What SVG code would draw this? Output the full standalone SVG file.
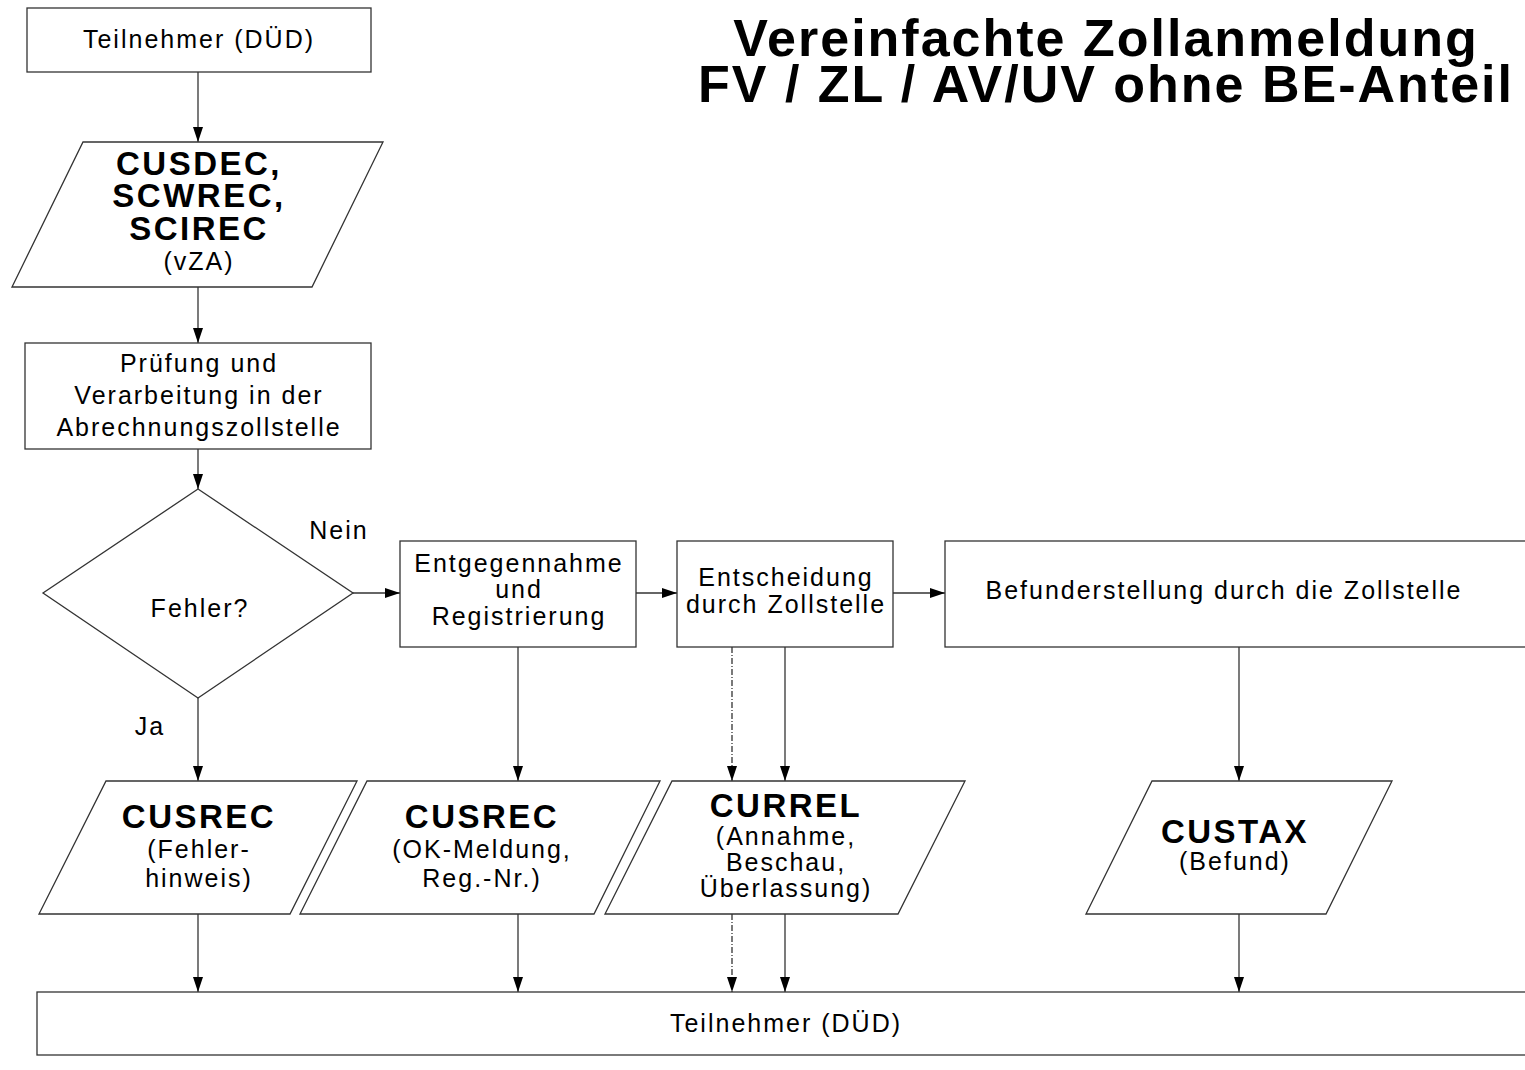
<svg xmlns="http://www.w3.org/2000/svg" width="1525" height="1070" viewBox="0 0 1525 1070">
<defs>
<marker id="ah" markerUnits="userSpaceOnUse" markerWidth="16" markerHeight="12" refX="15" refY="5" orient="auto">
<path d="M0,0 L15,5 L0,10 z" fill="#000"/>
</marker>
<style>
.n{fill:#fff;stroke:#333;stroke-width:1.3}
.t{font-family:"Liberation Sans",Arial,sans-serif;font-size:25px;letter-spacing:2px;fill:#000;text-anchor:middle}
.b{font-family:"Liberation Sans",Arial,sans-serif;font-size:33px;font-weight:bold;letter-spacing:2.5px;fill:#000;text-anchor:middle}
.h{font-family:"Liberation Sans",Arial,sans-serif;font-size:52px;font-weight:bold;letter-spacing:2px;fill:#000;text-anchor:middle}
.c{fill:none;stroke:#333;stroke-width:1.3;marker-end:url(#ah)}
.d{stroke-dasharray:6 2 1 2}
</style>
</defs>
<rect width="1525" height="1070" fill="#fff"/>
<g id="title">
<text class="h" x="1106" y="56">Vereinfachte Zollanmeldung</text>
<text class="h" x="1106" y="102">FV / ZL / AV/UV ohne BE-Anteil</text>
</g>
<g id="connectors">
<path class="c" d="M198,72 V142"/>
<path class="c" d="M198,287 V343"/>
<path class="c" d="M198,449 V489"/>
<path class="c" d="M353,593 H400"/>
<path class="c" d="M636,593 H677"/>
<path class="c" d="M893,593 H945"/>
<path class="c" d="M198,698 V781"/>
<path class="c" d="M518,647 V781"/>
<path class="c d" d="M732,647 V781"/>
<path class="c" d="M785,647 V781"/>
<path class="c" d="M1239,647 V781"/>
<path class="c" d="M198,914 V992"/>
<path class="c" d="M518,914 V992"/>
<path class="c d" d="M732,914 V992"/>
<path class="c" d="M785,914 V992"/>
<path class="c" d="M1239,914 V992"/>
<text class="t" x="339" y="539">Nein</text>
<text class="t" x="150" y="735">Ja</text>
</g>
<g id="start">
<rect class="n" x="27" y="8" width="344" height="64"/>
<text class="t" x="199" y="48">Teilnehmer (DÜD)</text>
</g>
<g id="vza">
<polygon class="n" points="83,142 383,142 312,287 12,287"/>
<text class="b" x="199" y="175">CUSDEC,</text>
<text class="b" x="199" y="207">SCWREC,</text>
<text class="b" x="199" y="240">SCIREC</text>
<text class="t" x="199" y="270">(vZA)</text>
</g>
<g id="pruefung">
<rect class="n" x="25" y="343" width="346" height="106"/>
<text class="t" x="199" y="372">Prüfung und</text>
<text class="t" x="199" y="404">Verarbeitung in der</text>
<text class="t" x="199" y="436">Abrechnungszollstelle</text>
</g>
<g id="fehler">
<polygon class="n" points="198,489 353,593 198,698 43,593"/>
<text class="t" x="200" y="617">Fehler?</text>
</g>
<g id="entgegennahme">
<rect class="n" x="400" y="541" width="236" height="106"/>
<text class="t" x="519" y="572">Entgegennahme</text>
<text class="t" x="519" y="598">und</text>
<text class="t" x="519" y="625">Registrierung</text>
</g>
<g id="entscheidung">
<rect class="n" x="677" y="541" width="216" height="106"/>
<text class="t" x="786" y="586">Entscheidung</text>
<text class="t" x="786" y="613">durch Zollstelle</text>
</g>
<g id="befund">
<rect class="n" x="945" y="541" width="600" height="106"/>
<text class="t" x="1224" y="599">Befunderstellung durch die Zollstelle</text>
</g>
<g id="cusrec1">
<polygon class="n" points="106,781 357,781 290,914 39,914"/>
<text class="b" x="199" y="828">CUSREC</text>
<text class="t" x="199" y="858">(Fehler-</text>
<text class="t" x="199" y="887">hinweis)</text>
</g>
<g id="cusrec2">
<polygon class="n" points="367,781 660,781 594,914 300,914"/>
<text class="b" x="482" y="828">CUSREC</text>
<text class="t" x="482" y="858">(OK-Meldung,</text>
<text class="t" x="482" y="887">Reg.-Nr.)</text>
</g>
<g id="currel">
<polygon class="n" points="672,781 965,781 898,914 605,914"/>
<text class="b" x="786" y="817">CURREL</text>
<text class="t" x="786" y="845">(Annahme,</text>
<text class="t" x="786" y="871">Beschau,</text>
<text class="t" x="786" y="897">Überlassung)</text>
</g>
<g id="custax">
<polygon class="n" points="1152,781 1392,781 1326,914 1086,914"/>
<text class="b" x="1235" y="843">CUSTAX</text>
<text class="t" x="1235" y="870">(Befund)</text>
</g>
<g id="end">
<rect class="n" x="37" y="992" width="1508" height="63"/>
<text class="t" x="786" y="1032">Teilnehmer (DÜD)</text>
</g>
</svg>
